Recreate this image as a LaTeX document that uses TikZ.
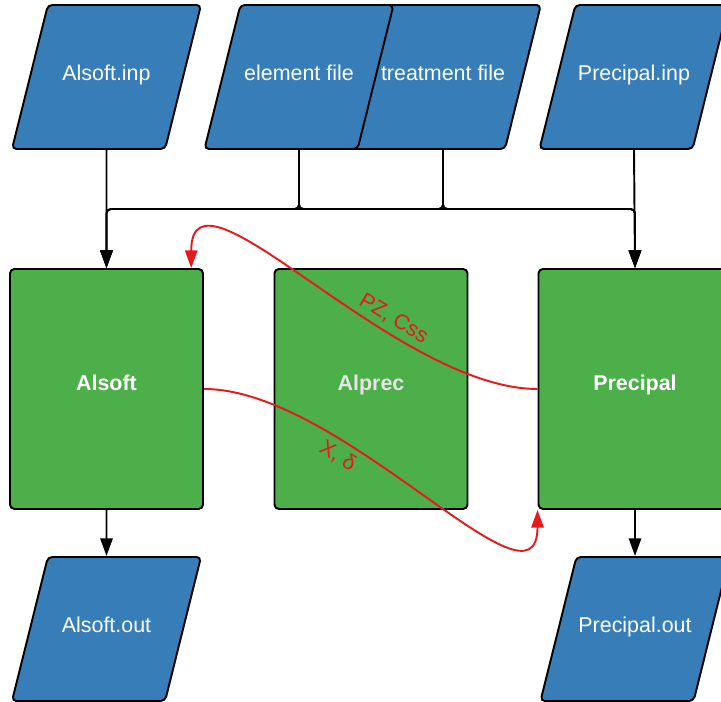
\documentclass[tikz,border=0pt]{standalone}
\usepackage{fontspec}
\setmainfont{Liberation Sans}
\usetikzlibrary{shapes.geometric,arrows.meta}

\begin{document}
\begin{tikzpicture}
	\definecolor{fileblue}{HTML}{377EB8}
	\definecolor{progreen}{HTML}{4DAF4A}
	\definecolor{datared}{HTML}{E41A1C}
	\tikzset{
		file/.style={trapezium, trapezium left angle=76, trapezium right angle=104, trapezium stretches body,
			minimum width=3.78cm, inner xsep=0pt, inner ysep=1.205cm, draw, line width=1.1pt,
			rounded corners=2.5pt, fill=fileblue, text=white, text height=0.31cm, text depth=0.16cm,
			font=\fontsize{12.2}{14}\selectfont},
		prog/.style={rectangle, minimum width=3.86cm, minimum height=4.8cm, draw, line width=1.1pt,
			rounded corners=2.5pt, fill=progreen, text=white, text height=0.31cm, text depth=0.24cm,
			font=\bfseries\fontsize{12.2}{14}\selectfont},
		flow/.style={line width=1.1pt, rounded corners=2.5pt, -{Triangle[length=10pt,width=7pt]}},
		data/.style={datared, line width=1.1pt, -{Triangle[length=10pt,width=7pt]}},
		datalabel/.style={sloped, text=datared, font=\fontsize{12.2}{14}\selectfont}
	}
	\useasboundingbox (0,0) rectangle (14.42,14.04);
	% Eingaben
	\node[file] (inAlsoft) at (2.13,12.5) {Alsoft.inp};
	\node[file] (inTreat) at (8.86,12.5) {treatment file};
	\node[file] (inElem) at (5.98,12.5) {element file};
	\node[file] (inPrec) at (12.68,12.5) {Precipal.inp};
	% Programme
	\node[prog] (Alsoft) at (2.13,6.26) {Alsoft};
	\node[prog, text=white!90!black] (Alprec) at (7.42,6.26) {Alprec};
	\node[prog] (Precipal) at (12.7,6.26) {Precipal};
	% Ausgaben
	\node[file] (outAlsoft) at (2.13,1.46) {Alsoft.out};
	\node[file] (outPrec) at (12.7,1.46) {Precipal.out};

	% Verbindungen
	\coordinate (bus) at (0,9.86);
	\draw[flow] (inAlsoft.south) -- (Alsoft.north);
	\draw[flow] (inPrec.south) -- (Precipal.north);
	\draw[flow] (inElem.south) |- (Alsoft.north |- bus) -- (Alsoft.north);
	\draw[flow] (inElem.south) |- (Precipal.north |- bus) -- (Precipal.north);
	\draw[flow] (inTreat.south) |- (Alsoft.north |- bus) -- (Alsoft.north);
	\draw[flow] (inTreat.south) |- (Precipal.north |- bus) -- (Precipal.north);
	\draw[flow] (Alsoft.south) -- (outAlsoft.north);
	\draw[flow] (Precipal.south) -- (outPrec.north);

	% Daten
	\draw[data] (Precipal.west) to[out=180, in=90, in looseness=0.83]
		node[datalabel, pos=0.33, above] {PZ, Css} (Alsoft.55);
	\draw[data] (Alsoft.east) to[out=0, in=-90, in looseness=0.83]
		node[datalabel, pos=0.32, below] {X, δ} (Precipal.south west);
\end{tikzpicture}
\end{document}
